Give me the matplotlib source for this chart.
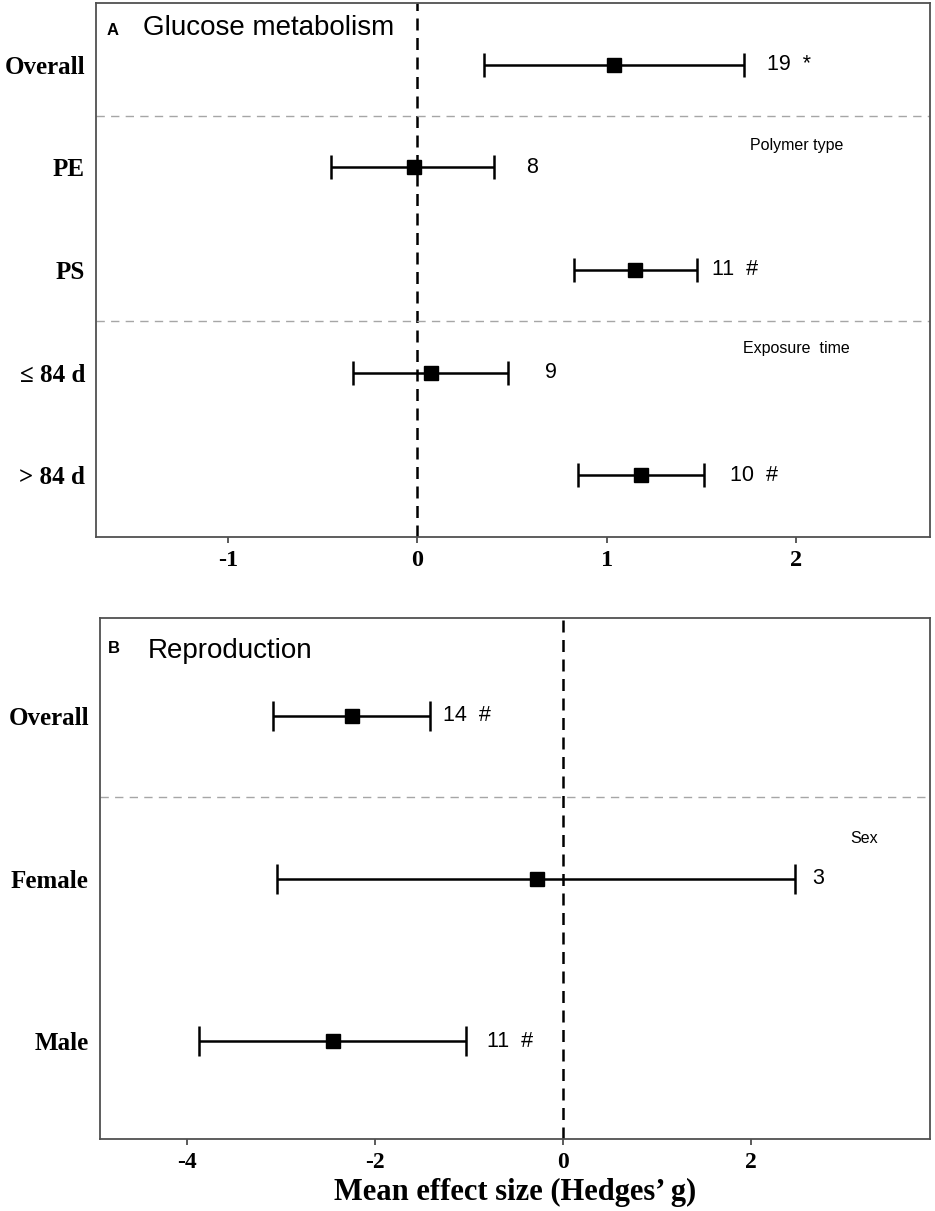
import matplotlib
matplotlib.use("Agg")
import matplotlib.pyplot as plt
import numpy as np

# ---------------- data ----------------
a_labels = ["Overall", "PE", "PS", "\u2264 84 d", "> 84 d"]
a_mean = [1.04, -0.02, 1.15, 0.07, 1.18]
a_lo = [0.35, -0.455, 0.825, -0.34, 0.847]
a_hi = [1.725, 0.407, 1.476, 0.476, 1.513]
a_text = ["19  *", "8", "11  #", "9", "10  #"]
a_groups = ["Polymer type", "Exposure  time"]
a_ticks = [-1, 0, 1, 2]

b_labels = ["Overall", "Female", "Male"]
b_mean = [-2.24, -0.28, -2.44]
b_lo = [-3.08, -3.04, -3.87]
b_hi = [-1.41, 2.47, -1.03]
b_text = ["14  #", "3", "11  #"]
b_groups = ["Sex"]
b_ticks = [-4, -2, 0, 2]

# ---------------- style ----------------
SERIF = ["Liberation Serif", "DejaVu Serif"]
SANS = ["Liberation Sans", "DejaVu Sans"]
W, H = 935, 1211
fig = plt.figure(figsize=(W / 100, H / 100), dpi=100)


def px_axes(l, t, r, b):
    return fig.add_axes([l / W, 1 - b / H, (r - l) / W, (b - t) / H])


def panel(ax, labels, mean, lo, hi, texts, xlim, ticks, seps, groups, group_pos,
          text_off, capsize, letter, title, letter_pos, title_pos, tick_fs):
    n = len(labels)
    y = np.arange(1, n + 1)
    mean = np.asarray(mean)
    err = np.vstack([mean - np.asarray(lo), np.asarray(hi) - mean])
    ax.axvline(0, color="black", lw=1.8, ls=(0, (4.8, 3)), zorder=1)
    for s in seps:
        ax.axhline(s, color="#a6a6a6", lw=1.0, ls=(0, (6, 4.5)), zorder=1)
    ax.errorbar(mean, y, xerr=err, fmt="s", color="black", ms=10,
                elinewidth=1.8, capsize=capsize, capthick=1.8, zorder=3)
    for yi, h, t, off in zip(y, hi, texts, text_off):
        ax.annotate(t, (h, yi), xytext=(off, 0), textcoords="offset points",
                    ha="left", va="center", fontsize=15.5, family=SANS)
    for g, (gx, gy) in zip(groups, group_pos):
        ax.text(gx, gy, g, fontsize=11.5, family=SANS, ha="left", va="baseline")
    ax.set_xlim(*xlim)
    ax.set_ylim(n + 0.6, 0.4)
    ax.set_yticks(y)
    ax.set_yticklabels(labels, family=SERIF, fontweight="bold", fontsize=18)
    ax.set_xticks(ticks)
    ax.set_xticklabels([str(t) for t in ticks], family=SERIF, fontweight="bold",
                       fontsize=tick_fs)
    ax.tick_params(axis="y", length=0, pad=8)
    ax.tick_params(axis="x", length=4, width=1.2, color="#404040", pad=5)
    for sp in ax.spines.values():
        sp.set_color("#505050")
        sp.set_linewidth(1.3)
    ax.text(letter_pos[0], letter_pos[1], letter, transform=ax.transAxes,
            fontsize=12, fontweight="bold", family=SANS, va="baseline")
    ax.text(title_pos[0], title_pos[1], title, transform=ax.transAxes,
            fontsize=20, family=SANS, va="baseline")


axA = px_axes(96, 3, 930, 537)
panel(axA, a_labels, a_mean, a_lo, a_hi, a_text, (-1.70, 2.71), a_ticks,
      [1.5, 3.5], a_groups, [(1.757, 1.83), (1.72, 3.81)],
      [17, 23, 11, 27, 19], 8.5, "A", "Glucose metabolism",
      (0.013, 0.940), (0.056, 0.940), 17.5)

axB = px_axes(100, 618, 930, 1139)
panel(axB, b_labels, b_mean, b_lo, b_hi, b_text, (-4.92, 3.90), b_ticks,
      [1.5], b_groups, [(3.05, 1.785)],
      [9, 12, 15], 11, "B", "Reproduction",
      (0.0096, 0.933), (0.057, 0.924), 17)
axB.set_xlabel("Mean effect size (Hedges\u2019 g)", family=SERIF,
               fontweight="bold", fontsize=22, labelpad=4)

fig.savefig("out.png", dpi=100)
